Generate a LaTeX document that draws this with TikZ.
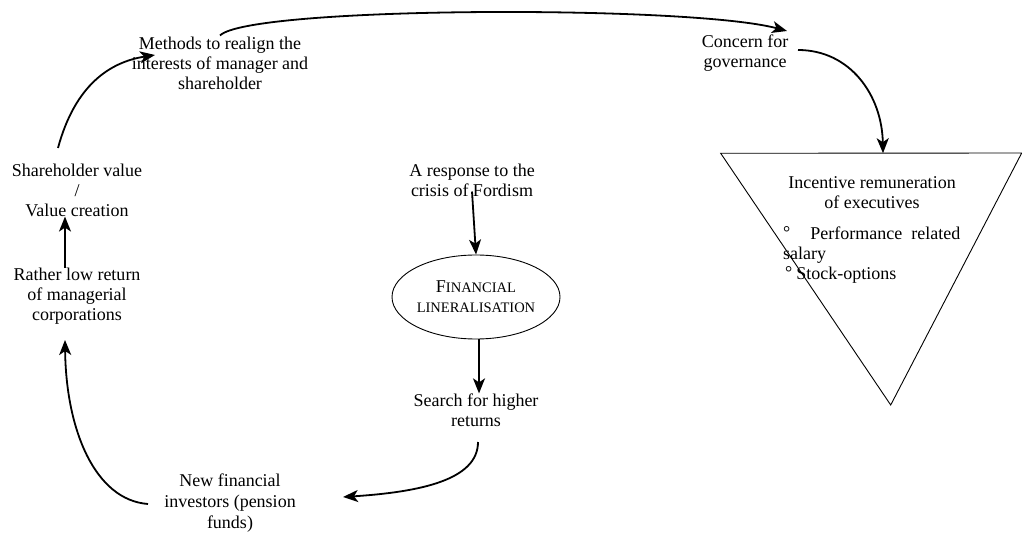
\documentclass[tikz,border=0pt]{standalone}
\usepackage{fontspec}
\setmainfont{Liberation Serif}
\usetikzlibrary{arrows.meta,shapes.geometric}
\newcommand{\scfont}{\fontsize{14.5}{20}\selectfont}
\begin{document}
\begin{tikzpicture}[x=1pt,y=-1pt,
  txt/.style={inner sep=0pt,align=center,font=\fontsize{18}{20}\selectfont},
  arr/.style={line width=1.8pt,-{Stealth[length=15pt,width=12pt,inset=4pt]}},
  thinline/.style={line width=0.9pt}]
\useasboundingbox (0,0) rectangle (1022,534);

% text blocks
\node[txt] (meth) at (220,63) {Methods to realign the\\interests of manager and\\shareholder};
\node[txt] (conc) at (745,53) {Concern for\\governance};
\node[txt] (share) at (77,190) {Shareholder value\\/\\Value creation};
\node[txt] (rather) at (77,296) {Rather low return\\of managerial\\corporations};
\node[txt] (resp) at (472,180) {A response to the\\crisis of Fordism};
\node[ellipse,draw,thinline,minimum width=168pt,minimum height=84pt,inner sep=0pt,
      align=center,font=\fontsize{18}{20}\selectfont] (fin) at (476,297)
      {F{\scfont INANCIAL}\\{\scfont LINERALISATION}};
\node[txt] (search) at (476,410) {Search for higher\\returns};
\node[txt,font=\fontsize{18}{21}\selectfont] (newfin) at (230,503) {New financial\\investors (pension\\funds)};

% inverted triangle with its contents
\coordinate (tl) at (720.7,153.3);
\coordinate (tr) at (1021.7,153);
\coordinate (tb) at (890.7,405);
\coordinate (ttop) at (883,153.2);
\draw[thinline,line join=miter] (tl) -- (tr) -- (tb) -- cycle;
\node[txt] (inc) at (872,193) {Incentive remuneration\\of executives};
\node[txt,align=left,anchor=north west] (items) at (783,226)
  {\raisebox{1pt}{°}\hspace{20pt}Performance\ \ related\\salary\\\hspace{2pt}\raisebox{1pt}{°}\hspace{4pt}Stock-options};

% connectors
\coordinate (sstart0) at (58,148);
\coordinate (mend) at (155,55);
\draw[arr] (sstart0) .. controls (75,85) and (110,62) .. (mend);
\coordinate (mstart) at ([yshift=1pt]meth.north);
\coordinate (cend) at (787,31);
\draw[arr] (mstart) .. controls (250,6) and (690,5) .. (cend);
\coordinate (cstart) at (798,50);
\draw[arr] (cstart) .. controls (850,50) and (882,95) .. (ttop);
\draw[arr] ([yshift=5pt]resp.south) -- (fin.north);
\draw[arr] ([xshift=3pt]fin.south) -- ([xshift=3pt]fin.south |- search.north);
\coordinate (sstart) at (478,442);
\coordinate (nend) at (343,497);
\draw[arr] (sstart) .. controls (478,480) and (420,492) .. (nend);
\coordinate (nstart) at (148,504);
\coordinate (rend) at (65,340);
\draw[arr] (nstart) .. controls (95,500) and (66,430) .. (rend);
\draw[arr] ([xshift=-12pt]rather.north) -- ([xshift=-12pt]share.south);
\end{tikzpicture}
\end{document}
